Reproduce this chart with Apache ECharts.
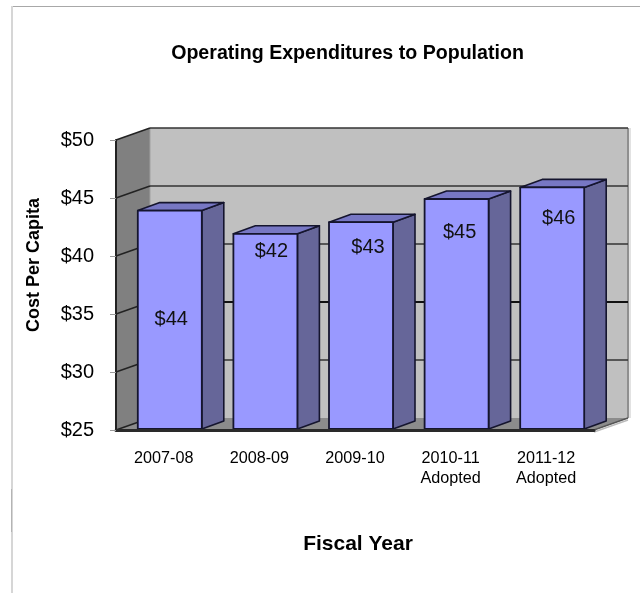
<!DOCTYPE html>
<html>
<head>
<meta charset="utf-8">
<style>html,body{margin:0;padding:0;background:#fff}#chart{width:640px;height:593px}</style>
<script src="https://cdn.jsdelivr.net/npm/echarts@6/dist/echarts.min.js"></script>
</head>
<body>
<div id="chart"></div>
<script>
// Operating cost per capita by fiscal year
const fiscalYears = ['2007-08', '2008-09', '2009-10', '2010-11\nAdopted', '2011-12\nAdopted'];
const costPerCapita = [44, 42, 43, 45, 46];
// Height on the dollar scale at which each value label sits
const labelLevels = [34.55, 40.4, 40.7, 42.05, 43.25];
// Sideways nudge of each value label, in pixels
const labelNudges = [1.5, 6, 7, 3, 6.5];
const gridValues = [25, 30, 35, 40, 45, 50];

const FONT = '"Liberation Sans", Arial, sans-serif';
const WALL_DEPTH = [34, -12];   // oblique offset of the back wall
const BAR_DEPTH = [22, -8];     // oblique offset of a bar's rear face
const BAR_WIDTH = 64;
const BAR_SHIFT = 6;            // bars stand slightly inside the floor

function poly(points, fill, stroke, width) {
  return {
    type: 'polygon',
    shape: { points: points },
    style: { fill: fill, stroke: stroke || null, lineWidth: width || 0, lineJoin: 'round' }
  };
}
function seg(a, b, color, width) {
  return {
    type: 'line',
    shape: { x1: a[0], y1: a[1], x2: b[0], y2: b[1] },
    style: { stroke: color, lineWidth: width }
  };
}

// Back wall, side wall, floor and their gridlines
function renderWalls(params, api) {
  const g = params.coordSys;
  const l = g.x, r = g.x + g.width, t = g.y, b = g.y + g.height;
  const dx = WALL_DEPTH[0], dy = WALL_DEPTH[1];
  const kids = [
    poly([[l + dx, t + dy], [r + dx, t + dy], [r + dx, b + dy], [l + dx, b + dy]], '#c0c0c0'),
    poly([[l, t], [l + dx, t + dy], [l + dx, b + dy], [l, b]], '#808080'),
    poly([[l, b], [r, b], [r + dx, b + dy], [l + dx, b + dy]], '#8c8c8c'),
    seg([r + dx, t + dy], [r + dx, b + dy], '#8f8f8f', 2),
    seg([r + dx + 2, t + dy], [r + dx + 2, b + dy], '#e2e2e2', 2),
    seg([l + dx, t + dy], [l + dx, b + dy], '#a0a0a0', 1),
    seg([r, b], [r + dx, b + dy], '#555', 1.5),
    seg([r, b + 2], [r + dx, b + dy + 2], '#bbb', 1.5)
  ];
  gridValues.forEach(function (v) {
    const y = api.coord([0, v])[1];
    if (v !== gridValues[0]) {
      kids.push(seg([l + dx, y + dy], [r + dx, y + dy], v === 35 ? '#111' : '#333', v === 35 ? 2 : 1.4));
    }
    kids.push(seg([l, y], [l + dx, y + dy], '#222', 1.5));
  });
  return { type: 'group', children: kids };
}

// One oblique box per fiscal year
function renderBar(params, api) {
  const i = api.value(0);
  const v = api.value(1);
  const top = api.coord([i, v]);
  const base = api.coord([i, 25]);
  const xl = top[0] + BAR_SHIFT - BAR_WIDTH / 2;
  const xr = xl + BAR_WIDTH;
  const yt = top[1] + 1;
  const yb = base[1] - 1;
  const dx = BAR_DEPTH[0], dy = BAR_DEPTH[1];
  const edge = '#15152e';
  const labelAt = api.coord([i, labelLevels[i]]);
  return {
    type: 'group',
    children: [
      poly([[xr, yt], [xr + dx, yt + dy], [xr + dx, yb + dy], [xr, yb]], '#666699', edge, 1.6),
      poly([[xl, yt], [xl + dx, yt + dy], [xr + dx, yt + dy], [xr, yt]], '#7777c4', edge, 1.6),
      poly([[xl, yt], [xr, yt], [xr, yb], [xl, yb]], '#9999ff', edge, 1.8),
      {
        type: 'text',
        style: {
          text: '$' + v,
          x: labelAt[0] + BAR_SHIFT + labelNudges[i],
          y: labelAt[1],
          fill: '#111',
          font: '20px ' + FONT,
          align: 'center',
          verticalAlign: 'middle'
        }
      }
    ]
  };
}

const chart = echarts.init(document.getElementById('chart'), null, { renderer: 'canvas' });
chart.setOption({
  animation: false,
  backgroundColor: '#fff',
  title: {
    text: 'Operating Expenditures to Population',
    left: 347.5, top: 44, textAlign: 'center', padding: 0,
    textStyle: { fontFamily: FONT, fontSize: 19.6, fontWeight: 'bold', color: '#000' }
  },
  graphic: [
    { type: 'line', shape: { x1: 12, y1: 6.5, x2: 640, y2: 6.5 }, style: { stroke: '#a8a8a8', lineWidth: 1 }, silent: true },
    { type: 'line', shape: { x1: 12, y1: 6, x2: 12, y2: 593 }, style: { stroke: '#d6d6d6', lineWidth: 2 }, silent: true },
    { type: 'line', shape: { x1: 11.5, y1: 489, x2: 11.5, y2: 532 }, style: { stroke: '#b4b4b4', lineWidth: 1 }, silent: true }
  ],
  grid: { left: 116, top: 140, width: 478, height: 290, containLabel: false },
  xAxis: {
    type: 'category',
    data: fiscalYears,
    name: 'Fiscal Year',
    nameLocation: 'middle',
    nameGap: 104,
    nameTextStyle: { fontFamily: FONT, fontSize: 21, fontWeight: 'bold', color: '#000', padding: [0, 0, 0, 6] },
    z: 10,
    axisLine: { lineStyle: { color: '#2a2a2a', width: 3 } },
    axisTick: { length: 6, lineStyle: { color: '#c4c4c4', width: 1 } },
    axisLabel: { fontFamily: FONT, fontSize: 16.2, color: '#000', margin: 19, lineHeight: 20 }
  },
  yAxis: {
    type: 'value',
    min: 25, max: 50, interval: 5,
    name: 'Cost Per Capita',
    nameLocation: 'middle',
    nameGap: 73,
    nameRotate: 90,
    nameTextStyle: { fontFamily: FONT, fontSize: 18, fontWeight: 'bold', color: '#000', padding: [0, 0, 0, 40] },
    z: 10,
    splitLine: { show: false },
    axisLine: { show: true, lineStyle: { color: '#222', width: 2 } },
    axisTick: { show: true, length: 6, lineStyle: { color: '#999', width: 1 } },
    axisLabel: { fontFamily: FONT, fontSize: 20, color: '#000', margin: 22, formatter: '${value}' }
  },
  series: [
    {
      type: 'custom',
      name: 'Walls',
      coordinateSystem: 'cartesian2d',
      clip: false,
      silent: true,
      z: 1,
      data: [[0, 25]],
      encode: { x: 0, y: 1 },
      renderItem: renderWalls
    },
    {
      type: 'custom',
      name: 'Cost Per Capita',
      coordinateSystem: 'cartesian2d',
      clip: false,
      z: 2,
      data: costPerCapita.map(function (v, i) { return [i, v]; }),
      encode: { x: 0, y: 1 },
      renderItem: renderBar
    }
  ]
});
</script>
</body>
</html>
